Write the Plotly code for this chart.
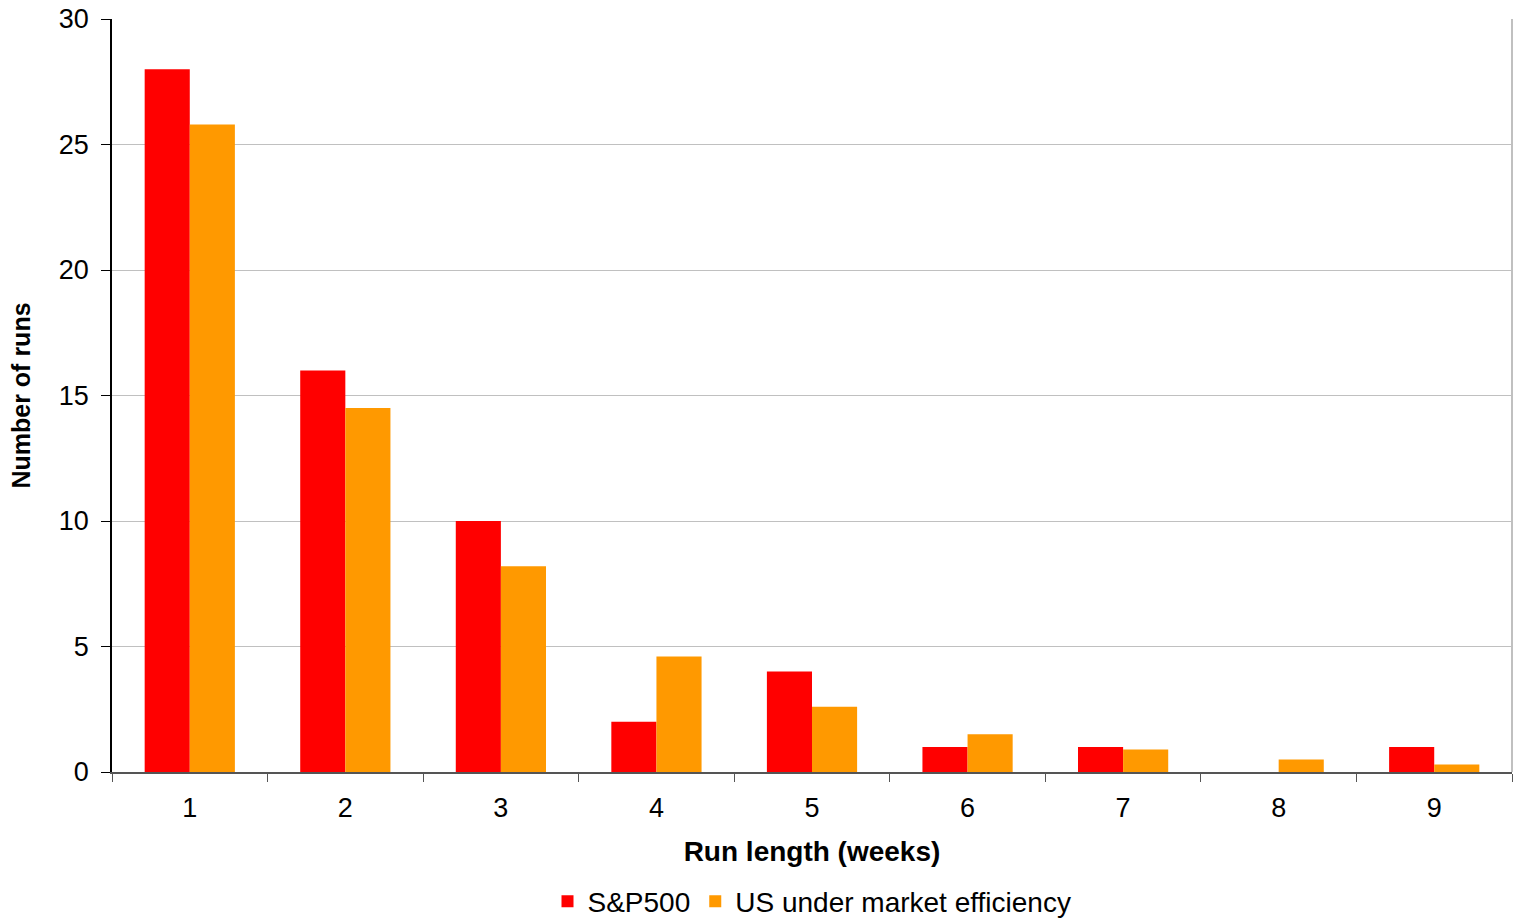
import plotly.graph_objects as go

run_length = ["1", "2", "3", "4", "5", "6", "7", "8", "9"]
sp500_runs = [28, 16, 10, 2, 4, 1, 1, 0, 1]
efficient_runs = [25.8, 14.5, 8.2, 4.6, 2.6, 1.5, 0.9, 0.5, 0.3]

font_family = "Liberation Sans, Arial, sans-serif"

fig = go.Figure()
fig.add_trace(go.Bar(x=run_length, y=sp500_runs, name="S&P500",
                     marker=dict(color="#FF0000", line=dict(width=0))))
fig.add_trace(go.Bar(x=run_length, y=efficient_runs, name="US under market efficiency",
                     marker=dict(color="#FF9900", line=dict(width=0))))

fig.update_layout(
    width=1513, height=920,
    margin=dict(l=112, r=1, t=19, b=148, autoexpand=False),
    paper_bgcolor="white", plot_bgcolor="white",
    barmode="group", bargap=0.42, bargroupgap=0,
    font=dict(family=font_family, size=27, color="black"),
    legend=dict(orientation="h", x=0.5, xanchor="center",
                yref="paper", y=-0.172, yanchor="middle",
                font=dict(size=28), itemwidth=30, traceorder="normal",
                tracegroupgap=0),
    showlegend=True,
)
fig.update_xaxes(
    type="category", tickson="boundaries", ticks="outside", ticklen=8,
    tickcolor="#555555", showline=True, linecolor="#555555", linewidth=2,
    showgrid=False, tickfont=dict(size=27), automargin=False,
    ticklabelstandoff=11,
    title=dict(text="<b>Run length (weeks)</b>", font=dict(size=28), standoff=19),
)
fig.update_yaxes(
    range=[0, 30], dtick=5, ticks="outside", ticklen=9, tickcolor="black",
    showline=True, linecolor="black", linewidth=1.5,
    showgrid=True, gridcolor="#C0C0C0", gridwidth=1, zeroline=False,
    tickfont=dict(size=27), automargin=False, ticklabelstandoff=7,
    title=dict(text="<b>Number of runs</b>", font=dict(size=25), standoff=21),
)
# right-hand border of the plotting area
fig.add_shape(type="line", xref="paper", yref="paper", x0=1, x1=1, y0=0, y1=1,
              line=dict(color="#C0C0C0", width=2))

fig.write_html("out.html")
